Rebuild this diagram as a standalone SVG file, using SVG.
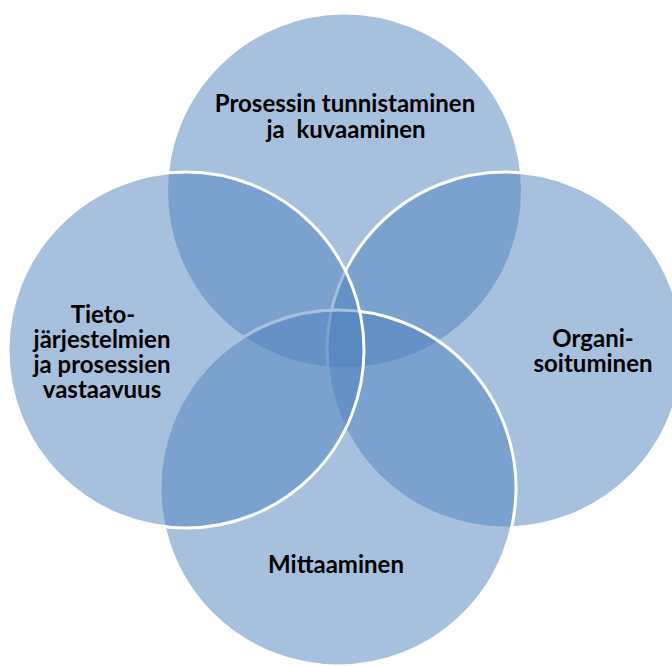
<svg xmlns="http://www.w3.org/2000/svg" width="672" height="666" viewBox="0 0 672 666">
  <style>
    .c { fill: #4F81BD; fill-opacity: 0.5; stroke: #FFFFFF; stroke-width: 3; }
    .t { font-family: "Lato", "Open Sans", "Liberation Sans", sans-serif; font-weight: bold; font-size: 24px; fill: #000000; text-anchor: middle; white-space: pre; }
  </style>
  <rect width="672" height="666" fill="#FFFFFF"/>
  <!-- circles drawn in stacking order: top, right, bottom, left -->
  <g id="node-top">
    <circle class="c" cx="344.5" cy="191" r="178"/>
  </g>
  <g id="node-right">
    <circle class="c" cx="505" cy="350" r="178"/>
  </g>
  <g id="node-bottom">
    <circle class="c" cx="338" cy="488" r="178"/>
  </g>
  <g id="node-left">
    <circle class="c" cx="186" cy="350" r="178"/>
  </g>
  <g id="connectors"></g>
  <!-- labels -->
  <g id="label-top">
    <text class="t" x="345" y="112">Prosessin tunnistaminen</text>
    <text class="t" x="346" y="138" xml:space="preserve">ja  kuvaaminen</text>
  </g>
  <g id="label-left">
    <text class="t" x="103" y="323">Tieto-</text>
    <text class="t" x="102" y="348">järjestelmien</text>
    <text class="t" x="102" y="373">ja prosessien</text>
    <text class="t" x="102" y="398">vastaavuus</text>
  </g>
  <g id="label-right">
    <text class="t" x="593" y="347">Organi-</text>
    <text class="t" x="593" y="372">soituminen</text>
  </g>
  <g id="label-bottom">
    <text class="t" x="336" y="573">Mittaaminen</text>
  </g>
</svg>
